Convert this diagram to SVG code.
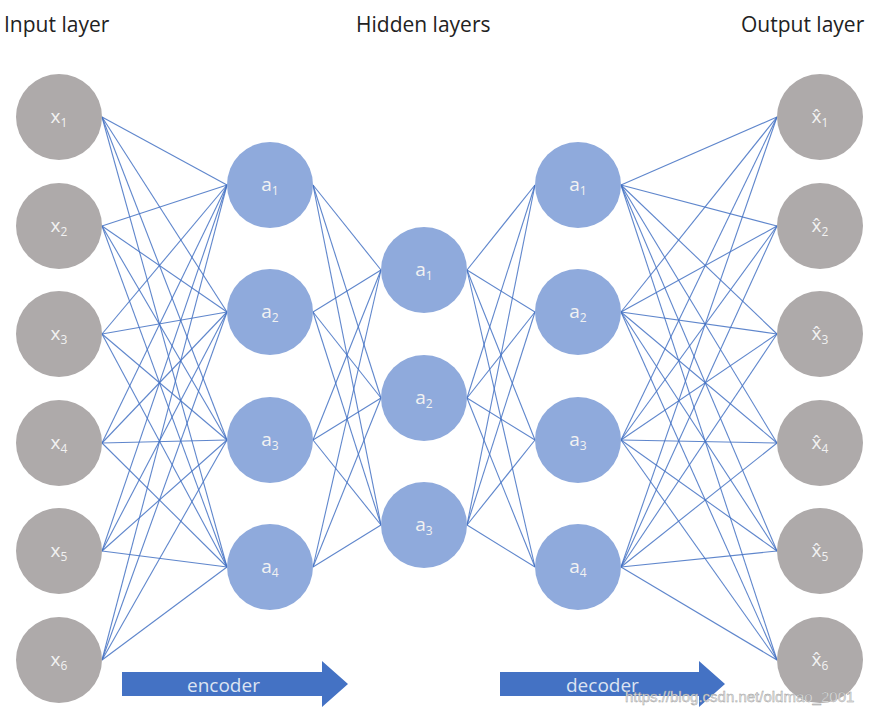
<svg xmlns="http://www.w3.org/2000/svg" width="875" height="716" viewBox="0 0 875 716">
<style>
.t{font-family:"Open Sans","Liberation Sans",sans-serif;font-size:21px;fill:#222}
.g{fill:#aeaaaa}.b{fill:#8faadc}
.l{font-family:"Open Sans","Liberation Sans",sans-serif;font-size:19px;fill:#f2f2f2;text-anchor:middle}
.s{font-size:12px}
#edges line{stroke:#4472c4;stroke-width:1.1;opacity:0.85}
.ar{fill:#4472c4}
.at{font-family:"Open Sans","Liberation Sans",sans-serif;font-size:19px;fill:#dce4f2}
</style>
<rect width="875" height="716" fill="#fff"/>
<text class="t" x="4" y="32">Input layer</text>
<text class="t" x="356" y="32">Hidden layers</text>
<text class="t" x="741" y="32">Output layer</text>
<g id="edges">
<line x1="102" y1="117" x2="227" y2="185"/><line x1="102" y1="117" x2="227" y2="312"/><line x1="102" y1="117" x2="227" y2="440"/><line x1="102" y1="117" x2="227" y2="567"/>
<line x1="102" y1="226" x2="227" y2="185"/><line x1="102" y1="226" x2="227" y2="312"/><line x1="102" y1="226" x2="227" y2="440"/><line x1="102" y1="226" x2="227" y2="567"/>
<line x1="102" y1="334" x2="227" y2="185"/><line x1="102" y1="334" x2="227" y2="312"/><line x1="102" y1="334" x2="227" y2="440"/><line x1="102" y1="334" x2="227" y2="567"/>
<line x1="102" y1="443" x2="227" y2="185"/><line x1="102" y1="443" x2="227" y2="312"/><line x1="102" y1="443" x2="227" y2="440"/><line x1="102" y1="443" x2="227" y2="567"/>
<line x1="102" y1="551" x2="227" y2="185"/><line x1="102" y1="551" x2="227" y2="312"/><line x1="102" y1="551" x2="227" y2="440"/><line x1="102" y1="551" x2="227" y2="567"/>
<line x1="102" y1="660" x2="227" y2="185"/><line x1="102" y1="660" x2="227" y2="312"/><line x1="102" y1="660" x2="227" y2="440"/><line x1="102" y1="660" x2="227" y2="567"/>
<line x1="313" y1="185" x2="381" y2="270"/><line x1="313" y1="185" x2="381" y2="398"/><line x1="313" y1="185" x2="381" y2="525"/>
<line x1="313" y1="312" x2="381" y2="270"/><line x1="313" y1="312" x2="381" y2="398"/><line x1="313" y1="312" x2="381" y2="525"/>
<line x1="313" y1="440" x2="381" y2="270"/><line x1="313" y1="440" x2="381" y2="398"/><line x1="313" y1="440" x2="381" y2="525"/>
<line x1="313" y1="567" x2="381" y2="270"/><line x1="313" y1="567" x2="381" y2="398"/><line x1="313" y1="567" x2="381" y2="525"/>
<line x1="467" y1="270" x2="535" y2="185"/><line x1="467" y1="270" x2="535" y2="312"/><line x1="467" y1="270" x2="535" y2="440"/><line x1="467" y1="270" x2="535" y2="567"/>
<line x1="467" y1="398" x2="535" y2="185"/><line x1="467" y1="398" x2="535" y2="312"/><line x1="467" y1="398" x2="535" y2="440"/><line x1="467" y1="398" x2="535" y2="567"/>
<line x1="467" y1="525" x2="535" y2="185"/><line x1="467" y1="525" x2="535" y2="312"/><line x1="467" y1="525" x2="535" y2="440"/><line x1="467" y1="525" x2="535" y2="567"/>
<line x1="621" y1="185" x2="777" y2="117"/><line x1="621" y1="185" x2="777" y2="226"/><line x1="621" y1="185" x2="777" y2="334"/><line x1="621" y1="185" x2="777" y2="443"/><line x1="621" y1="185" x2="777" y2="551"/><line x1="621" y1="185" x2="777" y2="660"/>
<line x1="621" y1="312" x2="777" y2="117"/><line x1="621" y1="312" x2="777" y2="226"/><line x1="621" y1="312" x2="777" y2="334"/><line x1="621" y1="312" x2="777" y2="443"/><line x1="621" y1="312" x2="777" y2="551"/><line x1="621" y1="312" x2="777" y2="660"/>
<line x1="621" y1="440" x2="777" y2="117"/><line x1="621" y1="440" x2="777" y2="226"/><line x1="621" y1="440" x2="777" y2="334"/><line x1="621" y1="440" x2="777" y2="443"/><line x1="621" y1="440" x2="777" y2="551"/><line x1="621" y1="440" x2="777" y2="660"/>
<line x1="621" y1="567" x2="777" y2="117"/><line x1="621" y1="567" x2="777" y2="226"/><line x1="621" y1="567" x2="777" y2="334"/><line x1="621" y1="567" x2="777" y2="443"/><line x1="621" y1="567" x2="777" y2="551"/><line x1="621" y1="567" x2="777" y2="660"/>
</g>
<g id="x1"><circle class="g" cx="59" cy="117" r="43"/><text class="l" x="59" y="123">x<tspan class="s" dy="4">1</tspan></text></g>
<g id="x2"><circle class="g" cx="59" cy="226" r="43"/><text class="l" x="59" y="232">x<tspan class="s" dy="4">2</tspan></text></g>
<g id="x3"><circle class="g" cx="59" cy="334" r="43"/><text class="l" x="59" y="340">x<tspan class="s" dy="4">3</tspan></text></g>
<g id="x4"><circle class="g" cx="59" cy="443" r="43"/><text class="l" x="59" y="449">x<tspan class="s" dy="4">4</tspan></text></g>
<g id="x5"><circle class="g" cx="59" cy="551" r="43"/><text class="l" x="59" y="557">x<tspan class="s" dy="4">5</tspan></text></g>
<g id="x6"><circle class="g" cx="59" cy="660" r="43"/><text class="l" x="59" y="666">x<tspan class="s" dy="4">6</tspan></text></g>
<g id="h1a1"><circle class="b" cx="270" cy="185" r="43"/><text class="l" x="270" y="191">a<tspan class="s" dy="4">1</tspan></text></g>
<g id="h1a2"><circle class="b" cx="270" cy="312" r="43"/><text class="l" x="270" y="318">a<tspan class="s" dy="4">2</tspan></text></g>
<g id="h1a3"><circle class="b" cx="270" cy="440" r="43"/><text class="l" x="270" y="446">a<tspan class="s" dy="4">3</tspan></text></g>
<g id="h1a4"><circle class="b" cx="270" cy="567" r="43"/><text class="l" x="270" y="573">a<tspan class="s" dy="4">4</tspan></text></g>
<g id="h2a1"><circle class="b" cx="424" cy="270" r="43"/><text class="l" x="424" y="276">a<tspan class="s" dy="4">1</tspan></text></g>
<g id="h2a2"><circle class="b" cx="424" cy="398" r="43"/><text class="l" x="424" y="404">a<tspan class="s" dy="4">2</tspan></text></g>
<g id="h2a3"><circle class="b" cx="424" cy="525" r="43"/><text class="l" x="424" y="531">a<tspan class="s" dy="4">3</tspan></text></g>
<g id="h3a1"><circle class="b" cx="578" cy="185" r="43"/><text class="l" x="578" y="191">a<tspan class="s" dy="4">1</tspan></text></g>
<g id="h3a2"><circle class="b" cx="578" cy="312" r="43"/><text class="l" x="578" y="318">a<tspan class="s" dy="4">2</tspan></text></g>
<g id="h3a3"><circle class="b" cx="578" cy="440" r="43"/><text class="l" x="578" y="446">a<tspan class="s" dy="4">3</tspan></text></g>
<g id="h3a4"><circle class="b" cx="578" cy="567" r="43"/><text class="l" x="578" y="573">a<tspan class="s" dy="4">4</tspan></text></g>
<g id="o1"><circle class="g" cx="820" cy="117" r="43"/><text class="l" x="820" y="123">x̂<tspan class="s" dy="4">1</tspan></text></g>
<g id="o2"><circle class="g" cx="820" cy="226" r="43"/><text class="l" x="820" y="232">x̂<tspan class="s" dy="4">2</tspan></text></g>
<g id="o3"><circle class="g" cx="820" cy="334" r="43"/><text class="l" x="820" y="340">x̂<tspan class="s" dy="4">3</tspan></text></g>
<g id="o4"><circle class="g" cx="820" cy="443" r="43"/><text class="l" x="820" y="449">x̂<tspan class="s" dy="4">4</tspan></text></g>
<g id="o5"><circle class="g" cx="820" cy="551" r="43"/><text class="l" x="820" y="557">x̂<tspan class="s" dy="4">5</tspan></text></g>
<g id="o6"><circle class="g" cx="820" cy="660" r="43"/><text class="l" x="820" y="666">x̂<tspan class="s" dy="4">6</tspan></text></g>
<g id="encoder"><polygon class="ar" points="122,672 322,672 322,661 348,684 322,707 322,696 122,696"/><text class="at" x="187" y="692">encoder</text></g>
<g id="decoder"><polygon class="ar" points="500,672 699,672 699,661 725,684 699,707 699,696 500,696"/><text class="at" x="566" y="692">decoder</text></g>
<text x="625" y="702" font-family="Liberation Sans,sans-serif" font-size="15" fill="#e6e6e6" stroke="#999" stroke-width="0.4">https://blog.csdn.net/oldmao_2001</text>
</svg>
